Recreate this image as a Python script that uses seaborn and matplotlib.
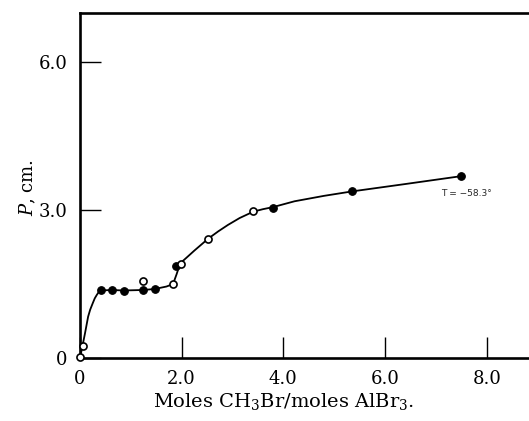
import matplotlib
matplotlib.use("Agg")
import matplotlib.pyplot as plt
import seaborn as sns
import pandas as pd

# ==========================================
# DATA
# ==========================================
# measured points, filled circles
filled_x = [0.41, 0.62, 0.86, 1.24, 1.47, 1.88, 3.79, 5.35, 7.50]
filled_y = [1.38, 1.38, 1.36, 1.38, 1.40, 1.87, 3.05, 3.38, 3.69]

# measured points, open circles
open_x = [0.00, 0.05, 1.24, 1.83, 1.98, 2.52, 3.41]
open_y = [0.03, 0.25, 1.57, 1.50, 1.91, 2.42, 2.98]

# smooth curve drawn through the points (traced by eye)
curve_x = [0.00, 0.05, 0.10, 0.16, 0.20, 0.25, 0.29, 0.33, 0.37, 0.41, 0.62,
           0.86, 1.24, 1.47, 1.70, 1.83, 1.90, 1.97, 2.10, 2.25, 2.52, 2.72,
           2.91, 3.14, 3.41, 3.60, 3.79, 4.22, 4.80, 5.35, 6.40, 7.50]
curve_y = [0.00, 0.25, 0.51, 0.84, 0.98, 1.11, 1.21, 1.28, 1.34, 1.37, 1.38,
           1.37, 1.38, 1.40, 1.45, 1.50, 1.70, 1.92, 2.04, 2.18, 2.42, 2.57,
           2.70, 2.84, 2.97, 3.02, 3.06, 3.18, 3.29, 3.38, 3.53, 3.69]

x_ticks = [0, 2, 4, 6, 8]
x_ticklabels = ["0", "2.0", "4.0", "6.0", "8.0"]
y_ticks = [0, 3, 6]
y_ticklabels = ["0", "3.0", "6.0"]

# ==========================================
# STYLE
# ==========================================
sns.set_theme(style="white")
plt.rcParams['font.family'] = ['DejaVu Serif']
plt.rcParams['mathtext.fontset'] = 'dejavuserif'

fig = plt.figure(figsize=(5.29, 4.21), dpi=100)
# axes frame runs off the right edge in the scan
ax = fig.add_axes([80 / 529, 63 / 421, 449 / 529, 345 / 421])

curve_df = pd.DataFrame({'x': curve_x, 'y': curve_y})
sns.lineplot(data=curve_df, x='x', y='y', sort=False, color='black',
             linewidth=1.3, ax=ax, zorder=2)

sns.scatterplot(x=filled_x, y=filled_y, s=30, color='black',
                edgecolor='black', linewidth=0.8, ax=ax, zorder=3,
                clip_on=False)
sns.scatterplot(x=open_x, y=open_y, s=26, facecolor='white',
                edgecolor='black', linewidth=1.2, ax=ax, zorder=3,
                clip_on=False)

ax.text(7.10, 3.33, "T = \u221258.3\u00b0", fontsize=6.5,
        family=['DejaVu Sans'], va='center', ha='left')

ax.set_xlim(0, 449 / 50.84)
ax.set_ylim(0, 7.0)
ax.set_xticks(x_ticks)
ax.set_xticklabels(x_ticklabels)
ax.set_yticks(y_ticks)
ax.set_yticklabels(y_ticklabels)

ax.tick_params(axis='both', direction='in', length=15, width=1.0,
               color='black', labelsize=13, labelcolor='black')
ax.tick_params(axis='x', pad=9, bottom=True)
ax.tick_params(axis='y', pad=9, left=True)

for side in ['left', 'top', 'bottom']:
    ax.spines[side].set_linewidth(1.9)
    ax.spines[side].set_color('black')
ax.spines['right'].set_visible(False)

ax.set_xlabel("Moles CH$_3$Br/moles AlBr$_3$.", fontsize=14, color='black')
ax.xaxis.set_label_coords((284 - 80) / 449, -0.095)
ax.set_ylabel("$P$, cm.", fontsize=13, color='black')
ax.yaxis.set_label_coords((38 - 80) / 449, 0.493)

fig.savefig("out.png", dpi=100)
plt.close(fig)
